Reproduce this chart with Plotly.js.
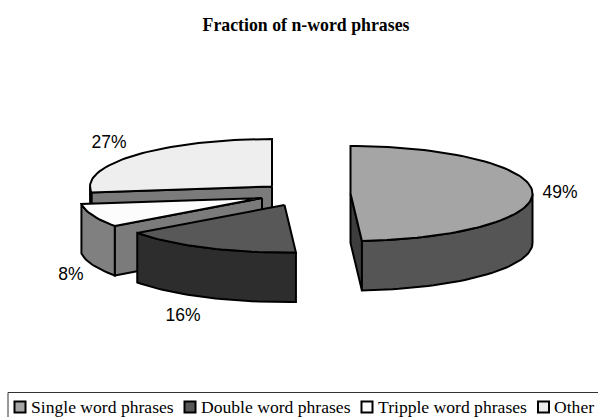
<!DOCTYPE html>
<html>
<head>
<meta charset="utf-8">
<script src="https://cdn.plot.ly/plotly-3.0.1.min.js"></script>
<style>html,body{margin:0;padding:0;background:#fff;overflow:hidden}#chart{width:598px;height:417px}</style>
</head>
<body>
<div id="chart"></div>
<script>
const categories = ["Single word phrases", "Double word phrases", "Tripple word phrases", "Other"];
const values = [49, 16, 8, 27];
const percentLabels = ["49%", "16%", "8%", "27%"];
const titleText = "Fraction of n-word phrases";

const topColors = ["#a5a5a5", "#585858", "#fcfcfc", "#eeeeee"];
const wallColors = ["#555555", "#2d2d2d", "#808080", "#808080"];
const cutColors = ["#3d3d3d", "#2d2d2d", "#7b7b7b", "#7b7b7b"];

// Exploded slice centres, in page pixels (axes below map 1:1 to the page)
const centerX = [350.5, 284.5, 262, 272];
const centerY = [193.5, 205, 198, 186.5];
const radiusX = 182, radiusY = 47.5, depth = 49.5;
const labelX = [560, 183, 71, 109];
const labelY = [194, 317, 276, 144];
const legendMarkerX = [20, 190, 367, 543.5];
const legendMarkerY = 407;
const legendTextY = 408.5;
const legendTextX = [31, 201, 378, 554];

const rad = d => d * Math.PI / 180;
const traces = [];
function facet(xs, ys, color) {
  traces.push({
    type: "scatter", mode: "lines", x: xs.concat(xs[0]), y: ys.concat(ys[0]),
    fill: "toself", fillcolor: color, line: {color: "#000", width: 2},
    hoverinfo: "skip", showlegend: false
  });
}
function rimX(i, a) { return centerX[i] + radiusX * Math.sin(rad(a)); }
function rimY(i, a) { return centerY[i] - radiusY * Math.cos(rad(a)); }
function arc(a0, a1) {
  const out = [];
  const n = Math.max(1, Math.ceil(Math.abs(a1 - a0) / 2));
  for (let k = 0; k <= n; k++) out.push(a0 + (a1 - a0) * k / n);
  return out;
}
function drawSlice(i, a0, a1) {
  const cx = centerX[i], cy = centerY[i];
  // flat cut faces that turn towards the viewer
  if (Math.sin(rad(a0)) < -1e-6) {
    facet([cx, rimX(i, a0), rimX(i, a0), cx],
          [cy, rimY(i, a0), rimY(i, a0) + depth, cy + depth], cutColors[i]);
  }
  if (Math.sin(rad(a1)) > 1e-6) {
    facet([cx, rimX(i, a1), rimX(i, a1), cx],
          [cy, rimY(i, a1), rimY(i, a1) + depth, cy + depth], cutColors[i]);
  }
  // outer wall: the part of the rim on the front half
  const w0 = Math.max(a0, 90), w1 = Math.min(a1, 270);
  if (w1 > w0) {
    const as = arc(w0, w1);
    const xs = as.map(a => rimX(i, a));
    const ys = as.map(a => rimY(i, a));
    facet(xs.concat(xs.slice().reverse()),
          ys.concat(ys.slice().reverse().map(y => y + depth)), wallColors[i]);
  }
  // top face
  const as = arc(a0, a1);
  facet([cx].concat(as.map(a => rimX(i, a))), [cy].concat(as.map(a => rimY(i, a))), topColors[i]);
}

const total = values.reduce((s, v) => s + v, 0);
const starts = [], ends = [];
let running = 0;
values.forEach((v, i) => {
  starts[i] = running / total * 360;
  running += v;
  ends[i] = running / total * 360;
});
[3, 2, 1, 0].forEach(i => drawSlice(i, starts[i], ends[i]));

traces.push({
  type: "scatter", mode: "text", x: labelX, y: labelY, text: percentLabels,
  textposition: "middle center",
  textfont: {family: "Liberation Sans, Arial, sans-serif", size: 17.5, color: "#000"},
  hoverinfo: "skip", showlegend: false
});
traces.push({
  type: "scatter", mode: "markers", x: legendMarkerX, y: categories.map(() => legendMarkerY),
  marker: {symbol: "square", size: 11, color: topColors, line: {color: "#000", width: 2}},
  hoverinfo: "skip", showlegend: false
});
traces.push({
  type: "scatter", mode: "text", x: legendTextX, y: categories.map(() => legendTextY),
  text: categories, textposition: "middle right",
  textfont: {family: "Liberation Serif, Times New Roman, serif", size: 17.6, color: "#000"},
  hoverinfo: "skip", showlegend: false
});

const layout = {
  width: 598, height: 417,
  margin: {l: 0, r: 0, t: 0, b: 0},
  paper_bgcolor: "#fff", plot_bgcolor: "#fff",
  showlegend: false,
  title: {
    text: "<b>" + titleText + "</b>",
    font: {family: "Liberation Serif, Times New Roman, serif", size: 17.8, color: "#000"},
    x: 306 / 598, xanchor: "center", y: 1 - 25 / 417, yanchor: "middle"
  },
  xaxis: {visible: false, range: [0, 598], fixedrange: true},
  yaxis: {visible: false, range: [417, 0], fixedrange: true},
  shapes: [{type: "rect", xref: "x", yref: "y", x0: 8, x1: 640, y0: 392.5, y1: 460,
            line: {color: "#333", width: 1}, fillcolor: "rgba(0,0,0,0)", layer: "below"}]
};
Plotly.newPlot("chart", traces, layout, {displayModeBar: false, responsive: false});
</script>
</body>
</html>
